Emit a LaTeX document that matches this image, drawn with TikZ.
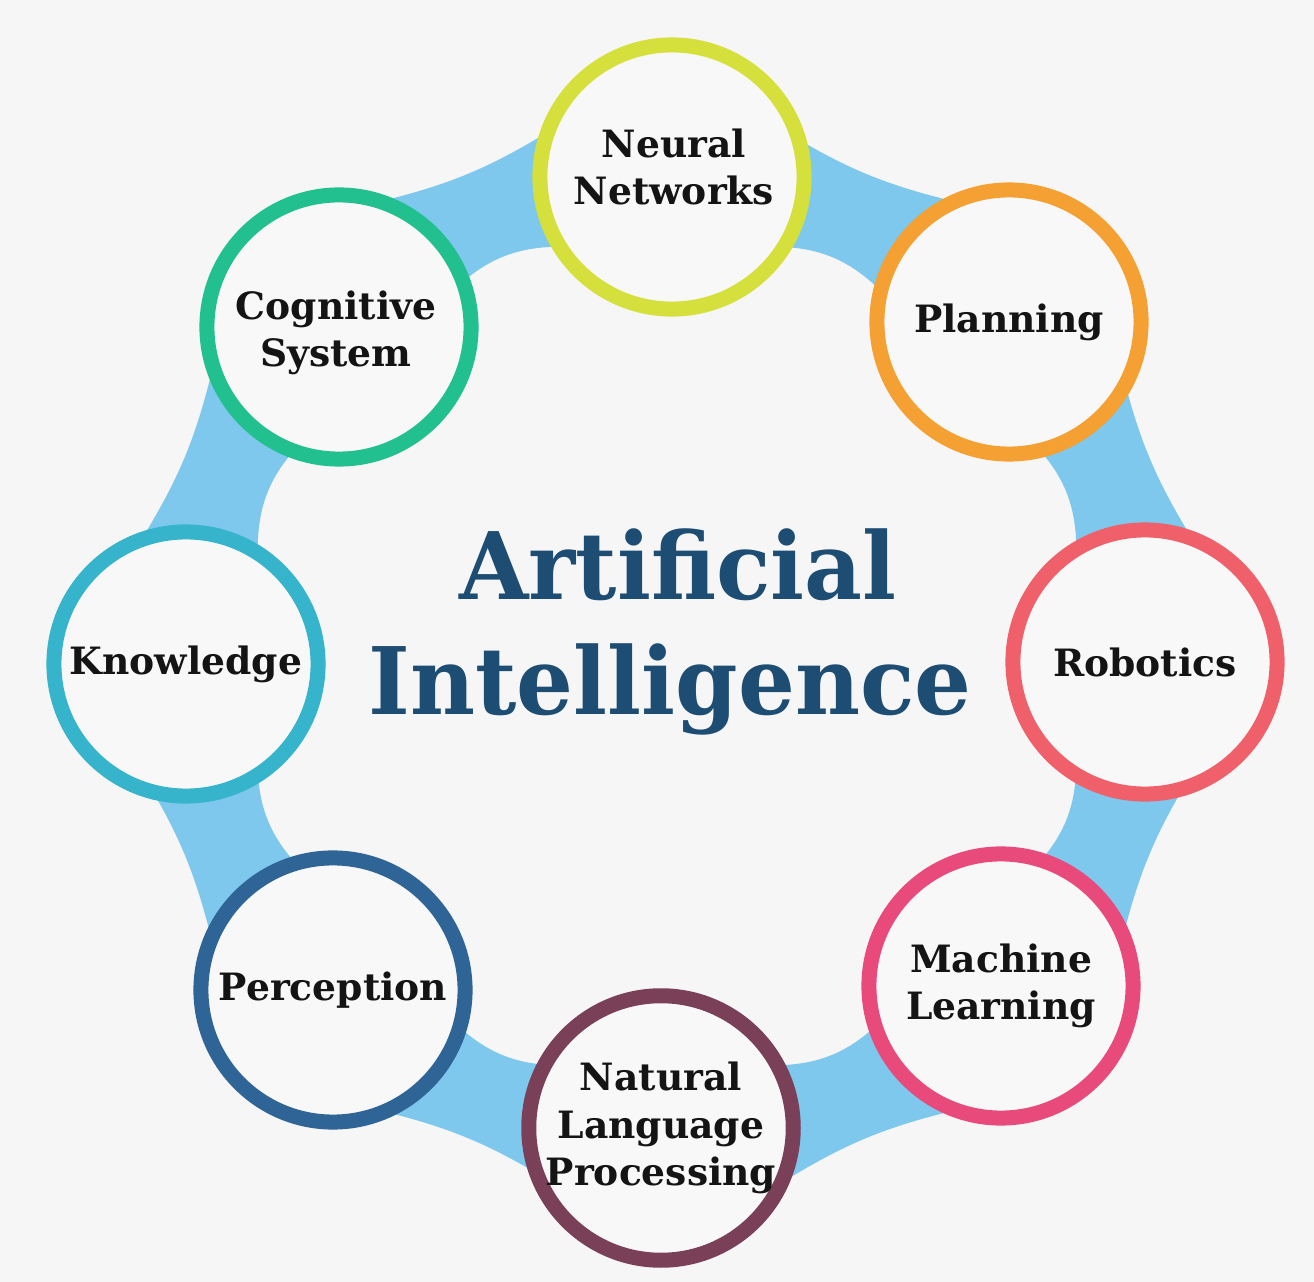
\documentclass[tikz,border=0pt]{standalone}
\usepackage{fontspec}
\setmainfont{DejaVu Serif}
\definecolor{bgc}{HTML}{F6F6F6}
\definecolor{inner}{HTML}{F8F8F8}
\definecolor{bandc}{HTML}{7DC8EC}
\definecolor{titlec}{HTML}{1E4D74}
\definecolor{cNN}{HTML}{D6E03C}
\definecolor{cPL}{HTML}{F4A032}
\definecolor{cRO}{HTML}{F0606A}
\definecolor{cML}{HTML}{E94A7C}
\definecolor{cNLP}{HTML}{7A4058}
\definecolor{cPE}{HTML}{2E6496}
\definecolor{cKN}{HTML}{36B4CC}
\definecolor{cCS}{HTML}{22C08E}
\newcommand\lblfont{\fontsize{10.7pt}{13.4pt}\selectfont\bfseries}
\newcommand\ttlfont{\fontsize{26.5pt}{30pt}\selectfont\bfseries}
\tikzset{
  bubble/.style={circle, minimum size=2.64cm, inner sep=0pt, line width=0.15cm,
    fill=inner, align=center, font=\lblfont, text=black!92},
  lbltext/.style={inner sep=0pt, align=center, font=\lblfont, text=black!92},
  bandseg/.style={fill=bandc},
  titletext/.style={font=\ttlfont, text=titlec, anchor=base, inner sep=0pt,
    transform shape, xscale=0.96}
}
\begin{document}
\begin{tikzpicture}[x=0.01cm,y=0.01cm]
\fill[bgc] (0,0) rectangle (1314,-1282);
\useasboundingbox (0,0) rectangle (1314,-1282);
\begin{scope}[shift={(667,-656)}]
  \foreach \a in {90,45,...,-225}{
    \fill[bandseg] ({\a-12}:540) .. controls ({\a-20}:519) and ({\a-25}:519) .. ({\a-33}:540)
      -- ({\a-33}:418) .. controls ({\a-25}:439) and ({\a-20}:439) .. ({\a-12}:418) -- cycle;
  }
\end{scope}
\node[bubble, draw=cNN]  (nn)  at (672,-177)  {};
\node[lbltext] (nntext) at (674,-167) {Neural\\Networks};
\node[bubble, draw=cPL]  (pl)  at (1009,-322) {Planning};
\node[bubble, draw=cRO]  (ro)  at (1145,-662) {Robotics};
\node[bubble, draw=cML]  (ml)  at (1001,-986) {Machine\\Learning};
\node[bubble, draw=cNLP] (nlp) at (661,-1128) {Natural\\Language\\Processing};
\node[bubble, draw=cPE]  (pe)  at (333,-990)  {Perception};
\node[bubble, draw=cKN]  (kn)  at (186,-664)  {Knowledge};
\node[bubble, draw=cCS]  (cs)  at (339,-327)  {};
\node[lbltext] (cstext) at (336,-333) {Cognitive\\System};
\node[titletext] (t1) at (678,-600) {Artificial};
\node[titletext] (t2) at (670,-715) {Intelligence};
\end{tikzpicture}
\end{document}
